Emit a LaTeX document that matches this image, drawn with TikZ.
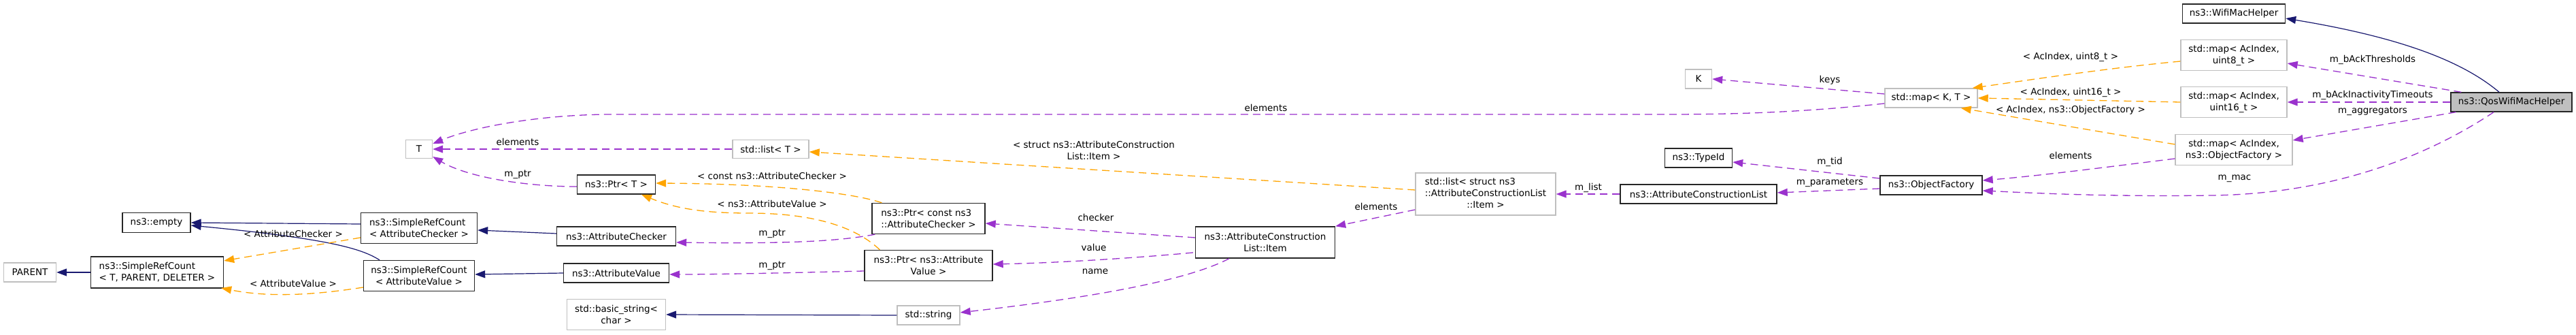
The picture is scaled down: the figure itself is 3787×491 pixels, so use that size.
\documentclass[tikz,border=0pt]{standalone}
\usepackage{fontspec}
\setmainfont{DejaVu Sans}
\usetikzlibrary{arrows.meta,calc}
\definecolor{navy}{HTML}{191970}
\definecolor{purp}{HTML}{9A32CD}
\definecolor{orng}{HTML}{FFA500}
\definecolor{grayb}{HTML}{BFBFBF}
\begin{document}
\begin{tikzpicture}[x=1pt,y=-1pt,
  every node/.style={font=\fontsize{13.5}{17}\selectfont, inner sep=0pt},
  cls/.style={draw=black!85, line width=1.4pt, fill=white},
  ext/.style={draw=grayb, line width=1.4pt, fill=white},
  inh/.style={draw=navy, line width=1.2pt, -{Triangle[length=15pt,width=11pt]}},
  use/.style={draw=purp, line width=1.3pt, dash pattern=on 11pt off 7pt, -{Triangle[length=15pt,width=11pt]}},
  tpl/.style={draw=orng, line width=1.3pt, dash pattern=on 11pt off 7pt, -{Triangle[length=15pt,width=11pt]}},
  lbl/.style={inner sep=0pt, align=center}
]
\fill[white] (0,0) rectangle (3787,491);
\useasboundingbox (0,0) rectangle (3787,491);

% nodes
\node[ext, minimum width=77pt, minimum height=28pt] (parent) at (44,400) {PARENT};
\node[cls, minimum width=195pt, minimum height=46pt, align=left] (srcT) at (231,400) {ns3::SimpleRefCount\\< T, PARENT, DELETER >};
\node[cls, minimum width=100pt, minimum height=29pt] (empty) at (230,327) {ns3::empty};
\node[cls, minimum width=171pt, minimum height=45pt, align=left] (srcAC) at (616,335) {ns3::SimpleRefCount\\< AttributeChecker >};
\node[cls, minimum width=163pt, minimum height=45pt, align=center] (srcAV) at (616,405) {ns3::SimpleRefCount\\< AttributeValue >};
\node[ext, minimum width=39pt, minimum height=27pt] (T) at (616,219) {T};
\node[ext, minimum width=112pt, minimum height=27pt] (listT) at (1133,219) {std::list< T >};
\node[cls, minimum width=115pt, minimum height=28pt] (ptrT) at (906,271) {ns3::Ptr< T >};
\node[cls, minimum width=175pt, minimum height=28pt] (ac) at (906,347) {ns3::AttributeChecker};
\node[cls, minimum width=155pt, minimum height=28pt] (av) at (906,401) {ns3::AttributeValue};
\node[ext, minimum width=145pt, minimum height=45pt, align=center] (bstr) at (906,462) {std::basic\_string<\\char >};
\node[cls, minimum width=166pt, minimum height=45pt, align=left] (ptrC) at (1365,321) {ns3::Ptr< const ns3\\::AttributeChecker >};
\node[cls, minimum width=188pt, minimum height=45pt, align=center] (ptrV) at (1365,390) {ns3::Ptr< ns3::Attribute\\Value >};
\node[ext, minimum width=92pt, minimum height=28pt] (str) at (1365,463) {std::string};
\node[cls, minimum width=205pt, minimum height=46pt, align=center] (item) at (1860,356) {ns3::AttributeConstruction\\List::Item};
\node[ext, minimum width=206pt, minimum height=62pt] (listS) at (2184,285) {\begin{tabular}{@{}l@{}}std::list< struct ns3\\::AttributeConstructionList\\\multicolumn{1}{@{}c@{}}{::Item >}\end{tabular}};
\node[cls, minimum width=230pt, minimum height=28pt] (acl) at (2497,285) {ns3::AttributeConstructionList};
\node[cls, minimum width=99pt, minimum height=28pt] (tid) at (2497,232) {ns3::TypeId};
\node[ext, minimum width=39pt, minimum height=28pt] (K) at (2497,116) {K};
\node[ext, minimum width=136pt, minimum height=28pt] (mapKT) at (2839,144) {std::map< K, T >};
\node[cls, minimum width=150pt, minimum height=28pt] (of) at (2839,272) {ns3::ObjectFactory};
\node[ext, minimum width=156pt, minimum height=45pt, align=center] (map8) at (3284,81) {std::map< AcIndex,\\uint8\_t >};
\node[ext, minimum width=156pt, minimum height=45pt, align=center] (map16) at (3284,150) {std::map< AcIndex,\\uint16\_t >};
\node[ext, minimum width=172pt, minimum height=45pt, align=center] (mapOF) at (3284,220) {std::map< AcIndex,\\ns3::ObjectFactory >};
\node[cls, minimum width=151pt, minimum height=28pt] (wifi) at (3284,20) {ns3::WifiMacHelper};
\node[cls, fill=grayb, minimum width=178pt, minimum height=28pt] (qos) at (3692,150) {ns3::QosWifiMacHelper};

% edges
\draw[inh] (srcT.west) -- (parent.east);
\draw[inh] ($(srcAC.west)+(0,-6)$) -- (empty.east);
\draw[inh] ($(srcAV.north)+(-58,0)$) .. controls (535,368) and (500,352) .. ($(empty.east)+(0,4)$);
\draw[tpl] ($(srcAC.west)+(0,14)$) -- ($(srcT.east)+(0,-17)$);
\node[lbl] (lAC) at (431,343) {< AttributeChecker >};
\draw[tpl] ($(srcAV.west)+(0,17)$) .. controls (470,432) and (400,438) .. ($(srcT.east)+(-4,23)$);
\node[lbl] (lAV) at (431,416) {< AttributeValue >};

\draw[use] ($(mapKT.west)+(0,8)$) .. controls (2650,165) and (2550,168) .. (2450,168) -- (900,168) .. controls (800,168) and (700,185) .. ($(T.east)+(0,-8)$);
\node[lbl] (lel1) at (1861,158) {elements};
\draw[use] (listT.west) -- (T.east);
\node[lbl] (lel2) at (761,208) {elements};
\draw[use] ($(ptrT.west)+(0,3)$) .. controls (780,274) and (690,262) .. ($(T.east)+(0,11)$);
\node[lbl] (lptr1) at (761,256) {m\_ptr};

\draw[tpl] ($(ptrC.north west)+(15,0)$) .. controls (1260,285) and (1150,270) .. ($(ptrT.east)+(0,-2)$);
\node[lbl] (lcac) at (1135,258) {< const ns3::AttributeChecker >};
\draw[tpl] ($(ptrV.north west)+(23,0)$) .. controls (1260,335) and (1200,313) .. (1100,313) .. controls (1030,313) and (990,305) .. ($(ptrT.south)+(37,0)$);
\node[lbl] (lnav) at (1135,299) {< ns3::AttributeValue >};

\draw[inh] ($(ac.west)+(0,-4)$) -- ($(srcAC.east)+(0,3)$);
\draw[use] ($(ptrC.south west)+(5,0)$) .. controls (1230,355) and (1150,358) .. ($(ac.east)+(0,9)$);
\node[lbl] (lptr2) at (1135,343) {m\_ptr};
\draw[inh] (av.west) -- ($(srcAV.east)+(0,-2)$);
\draw[use] ($(ptrV.west)+(0,8)$) .. controls (1150,401) and (1050,403) .. ($(av.east)+(0,2)$);
\node[lbl] (lptr3) at (1135,390) {m\_ptr};
\draw[inh] (str.west) -- (bstr.east);

\draw[use] ($(item.west)+(0,-7)$) -- ($(ptrC.east)+(0,7)$);
\node[lbl] (lchk) at (1611,319) {checker};
\draw[use] ($(item.west)+(-3,15)$) .. controls (1680,378) and (1560,386) .. ($(ptrV.east)+(0,-2)$);
\node[lbl] (lval) at (1608,363) {value};
\draw[use] ($(item.south)+(-53,0)$) .. controls (1740,415) and (1580,440) .. ($(str.east)+(0,-4)$);
\node[lbl] (lname) at (1610,399) {name};

\draw[tpl] ($(listS.west)+(0,-6)$) -- ($(listT.east)+(0,4)$);
\node[lbl] (lstruct) at (1608,221) {< struct ns3::AttributeConstruction\\List::Item >};
\draw[use] ($(listS.west)+(0,23)$) -- (item.north east);
\node[lbl] (lel3) at (2023,303) {elements};

\draw[use] (acl.west) -- (listS.east);
\node[lbl] (llist) at (2335,276) {m\_list};
\draw[use] ($(of.west)+(0,5)$) -- ($(acl.east)+(0,-2)$);
\node[lbl] (lpar) at (2690,268) {m\_parameters};
\draw[use] ($(of.west)+(0,-10)$) -- ($(tid.east)+(0,6)$);
\node[lbl] (ltid) at (2690,238) {m\_tid};
\draw[use] ($(mapKT.west)+(0,-6)$) -- (K.east);
\node[lbl] (lkeys) at (2690,118) {keys};

\draw[tpl] ($(map8.west)+(0,9)$) .. controls (3100,100) and (3000,115) .. ($(mapKT.north east)+(-8,0)$);
\node[lbl] (lu8) at (3044,84) {< AcIndex, uint8\_t >};
\draw[tpl] (map16.west) -- (mapKT.east);
\node[lbl] (lu16) at (3044,136) {< AcIndex, uint16\_t >};
\draw[tpl] ($(mapOF.west)+(0,-8)$) -- ($(mapKT.south east)+(-25,0)$);
\node[lbl] (luof) at (3044,162) {< AcIndex, ns3::ObjectFactory >};
\draw[use] ($(mapOF.west)+(0,13)$) .. controls (3100,245) and (3000,258) .. ($(of.east)+(0,-7)$);
\node[lbl] (lel4) at (3044,228) {elements};
\draw[use] ($(qos.south)+(-26,0)$) .. controls (3560,235) and (3420,285) .. (3250,287) .. controls (3100,289) and (3000,284) .. ($(of.east)+(0,8)$);
\node[lbl] (lmac) at (3285,262) {m\_mac};

\draw[inh] ($(qos.north)+(-18,0)$) .. controls (3620,90) and (3530,55) .. ($(wifi.east)+(0,7)$);
\draw[use] ($(qos.north west)+(16,0)$) -- ($(map8.east)+(0,12)$);
\node[lbl] (lbat) at (3488,88) {m\_bAckThresholds};
\draw[use] (qos.west) -- (map16.east);
\node[lbl] (lbait) at (3488,140) {m\_bAckInactivityTimeouts};
\draw[use] ($(qos.south west)+(8,0)$) -- ($(mapOF.east)+(0,-14)$);
\node[lbl] (lagg) at (3488,163) {m\_aggregators};
\end{tikzpicture}
\end{document}
